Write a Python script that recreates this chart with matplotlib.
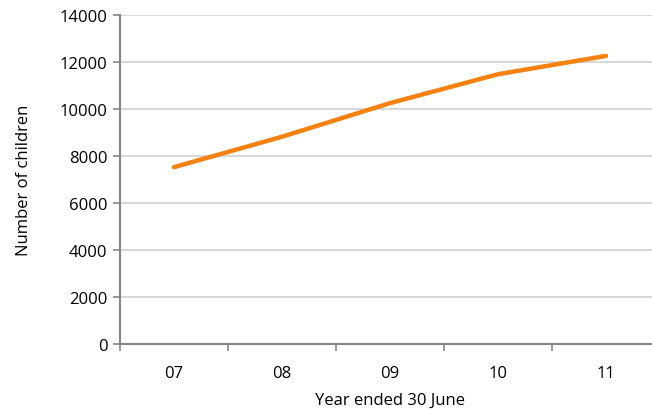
import matplotlib.pyplot as plt
import numpy as np

years = ['07', '08', '09', '10', '11']
children = [7525, 8820, 10250, 11480, 12260]

plt.rcParams['font.family'] = ['Open Sans', 'DejaVu Sans']

fig = plt.figure(figsize=(6.52, 4.10), dpi=100)
ax = fig.add_axes([120/652, 1 - 345/410, 540/652, 329/410])

x = np.arange(len(years))
ax.plot(x, children, color='#F58110', linewidth=3.2, solid_capstyle='round')

ax.set_xlim(-0.5, len(years) - 0.5)
ax.set_ylim(0, 14000)
ax.set_yticks(np.arange(0, 14001, 2000))
ax.yaxis.grid(True, color='#d4d4d4', linewidth=1.3)
ax.set_axisbelow(True)

ax.set_xticks(x)
ax.set_xticklabels(years)
ax.set_xticks(np.arange(-0.5, len(years), 1), minor=True)
ax.tick_params(axis='x', which='major', length=0, pad=15, labelsize=12)
ax.tick_params(axis='x', which='minor', length=5, color='#868686', width=1.2)
ax.tick_params(axis='y', length=5, color='#868686', width=1.2, labelsize=12, pad=4)

for s in ['top', 'right']:
    ax.spines[s].set_visible(False)
for s in ['left', 'bottom']:
    ax.spines[s].set_color('#868686')
    ax.spines[s].set_linewidth(1.5)

ax.set_xlabel('Year ended 30 June', fontsize=12, labelpad=8)
ax.set_ylabel('Number of children', fontsize=12, labelpad=20)

fig.savefig('out.png', dpi=100)
